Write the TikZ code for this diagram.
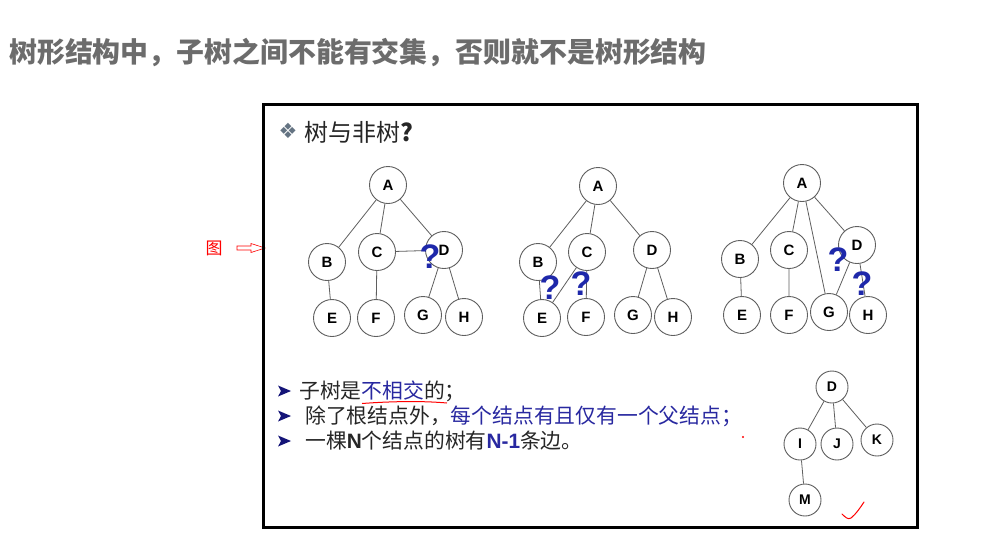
\documentclass[tikz,border=0pt]{standalone}
\usepackage{fontspec}
\setmainfont{Liberation Sans}
\newfontfamily\cjk{Noto Sans CJK SC}
\newfontfamily\dvs{DejaVu Sans}
\definecolor{titlegray}{RGB}{108,108,108}
\definecolor{tblue}{RGB}{40,40,160}
\definecolor{qblue}{RGB}{30,40,170}
\definecolor{navy}{RGB}{20,20,120}
\definecolor{edgegray}{RGB}{95,95,95}
\definecolor{diagray}{RGB}{100,115,130}
\tikzset{
  tn/.style={circle, draw=edgegray, line width=0.9pt, fill=white, minimum size=37pt, inner sep=0pt,
    font=\rmfamily\bfseries\fontsize{15pt}{15pt}\selectfont},
  sn/.style={tn, minimum size=32pt, font=\rmfamily\bfseries\fontsize{14pt}{14pt}\selectfont},
  ed/.style={draw=edgegray, line width=0.8pt},
  qm/.style={text=qblue, inner sep=0pt, font=\rmfamily\bfseries\fontsize{34pt}{34pt}\selectfont},
  bul/.style={anchor=base west, inner sep=0pt, font=\cjk\fontsize{20.8pt}{21pt}\selectfont, text=black!85},
}
\newcommand{\bularrow}[2]{\fill[navy] (#1-6,#2-5.5) -- (#1+7,#2) -- (#1-6,#2+5.5) -- (#1-3,#2) -- cycle;}
\begin{document}
\begin{tikzpicture}[x=1pt,y=-1pt]
\useasboundingbox (0,0) rectangle (981,542);
\fill[white] (0,0) rectangle (981,542);

% title
\node[anchor=base west, inner sep=0pt, text=titlegray, font=\cjk\bfseries\fontsize{27.9pt}{28pt}\selectfont]
  (title) at (9,62) {树形结构中，子树之间不能有交集，否则就不是树形结构};

% red side mark
\node[text=red, inner sep=0pt, font=\cjk\fontsize{17pt}{17pt}\selectfont] (tu) at (214,248) {图};
\draw[red, fill=white, line width=0.6pt] (237,246) -- (251,246) -- (251,243.5) -- (265,248) -- (251,252.5) -- (251,250) -- (237,250) -- cycle;

% frame
\draw[line width=3pt] (263,104) rectangle (917,527);

% header
\node[text=diagray, inner sep=0pt, font=\dvs\fontsize{21pt}{21pt}\selectfont] (dia) at (288,131) {❖};
\node[anchor=base west, inner sep=0pt, font=\cjk\fontsize{24pt}{24pt}\selectfont, text=black!85] (hdr) at (304,141) {树与非树\textbf{?}};

% tree 1
\node[tn] (A1) at (388,185) {A};
\node[tn] (B1) at (327,262) {B};
\node[tn] (C1) at (377,252) {C};
\node[tn] (D1) at (444,250) {D};
\node[tn] (E1) at (332,318) {E};
\node[tn] (F1) at (376,318) {F};
\node[tn] (G1) at (423,315) {G};
\node[tn] (H1) at (464,317) {H};
\draw[ed] (A1) -- (B1) (A1) -- (C1) (A1) -- (D1) (B1) -- (E1) (C1) -- (F1) (D1) -- (G1) (D1) -- (H1) (C1) -- (D1);
\node[qm] (q1) at (430,257) {?};

% tree 2
\node[tn] (A2) at (598,186) {A};
\node[tn] (B2) at (538,262) {B};
\node[tn] (C2) at (587,252) {C};
\node[tn] (D2) at (652,250) {D};
\node[tn] (E2) at (542,318) {E};
\node[tn] (F2) at (586,317) {F};
\node[tn] (G2) at (633,315) {G};
\node[tn] (H2) at (673,317) {H};
\draw[ed] (A2) -- (B2) (A2) -- (C2) (A2) -- (D2) (B2) -- (E2) (C2) -- (E2) (C2) -- (F2) (D2) -- (G2) (D2) -- (H2);
\node[qm] (q2) at (550,288) {?};
\node[qm] (q3) at (581,284) {?};

% tree 3
\node[tn] (A3) at (802,183) {A};
\node[tn] (B3) at (740,259) {B};
\node[tn] (C3) at (789,250) {C};
\node[tn] (D3) at (857,245) {D};
\node[tn] (E3) at (742,315) {E};
\node[tn] (F3) at (789,315) {F};
\node[tn] (G3) at (829,312) {G};
\node[tn] (H3) at (868,315) {H};
\draw[ed] (A3) -- (B3) (A3) -- (C3) (A3) -- (G3) (A3) -- (D3) (B3) -- (E3) (C3) -- (F3) (D3) -- (G3) (D3) -- (H3);
\node[qm] (q4) at (838,260) {?};
\node[qm] (q5) at (862,284) {?};

% bullets
\bularrow{284}{391}
\bularrow{284}{416}
\bularrow{284}{441}
\node[bul] (l1) at (299,398) {子树是\textcolor{tblue}{不相交}的；};
\node[bul] (l2) at (305,423) {除了根结点外，\textcolor{tblue}{每个结点有且仅有一个父结点；}};
\node[bul] (l3) at (305,448) {一棵{\rmfamily\bfseries N}个结点的树有\textcolor{tblue}{\rmfamily\bfseries N-1}条边。};
\draw[red, line width=1pt] (362,403.5) .. controls (395,401) and (425,401) .. (447,403);
\fill[red] (743,437) circle (1.1pt);

% small tree
\node[sn] (D4) at (832,387) {D};
\node[sn] (I4) at (800,444) {I};
\node[sn] (J4) at (837,444) {J};
\node[sn] (K4) at (877,440) {K};
\node[sn] (M4) at (805,500) {M};
\draw[ed] (D4) -- (I4) (D4) -- (J4) (D4) -- (K4) (I4) -- (M4);

% check mark
\draw[red, line width=1pt, line cap=round] (842,514) .. controls (845,517) and (848,520) .. (851,518) .. controls (856,514) and (860,508) .. (864,502);
\end{tikzpicture}
\end{document}
